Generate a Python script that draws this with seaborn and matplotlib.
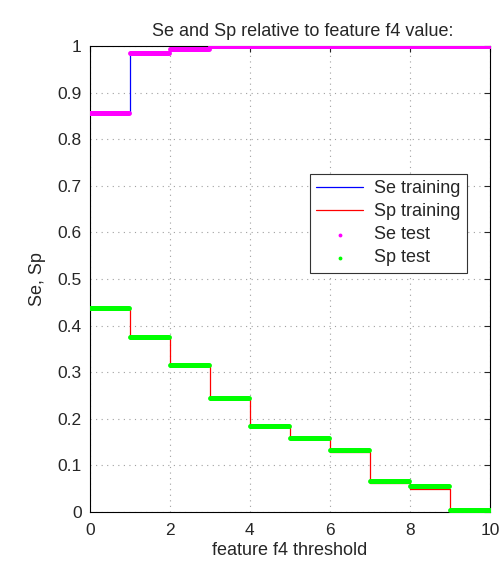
import numpy as np
import pandas as pd
import matplotlib
matplotlib.use('Agg')
import matplotlib.pyplot as plt
import seaborn as sns

# ============================================================
# DATA
# ============================================================
thresholds = [0, 1, 2, 3, 4, 5, 6, 7, 8, 9, 10]
se_train = [0.856, 0.986, 0.993, 1.0, 1.0, 1.0, 1.0, 1.0, 1.0, 1.0, 1.0]
sp_train = [0.437, 0.376, 0.315, 0.244, 0.185, 0.158, 0.129, 0.062, 0.049, 0.0, 0.0]
se_test = [0.856, 0.986, 0.993, 1.0, 1.0, 1.0, 1.0, 1.0, 1.0, 1.0, 1.0]
sp_test = [0.437, 0.376, 0.315, 0.244, 0.185, 0.158, 0.133, 0.067, 0.056, 0.004, 0.004]

# test thresholds are sampled densely; each sample takes the value of its step
test_x = np.arange(0, 10.001, 0.02)
step_idx = np.minimum(np.floor(test_x).astype(int), 9)
test_df = pd.DataFrame({
    'x': test_x,
    'se': np.array(se_test)[step_idx],
    'sp': np.array(sp_test)[step_idx],
})

# ============================================================
# STYLE
# ============================================================
sns.set_style('white')
plt.rcParams['font.family'] = ['Liberation Sans', 'DejaVu Sans']
plt.rcParams['font.size'] = 13

fig = plt.figure(figsize=(5.02, 5.61), dpi=100)
ax = fig.add_axes([0.179, 0.0873, 0.797, 0.8307])

# training curves as steps
ax.step(thresholds, se_train, where='post', color='blue', lw=0.9, label='Se training')
ax.step(thresholds, sp_train, where='post', color='red', lw=0.9, label='Sp training')

# test dots
sns.scatterplot(data=test_df, x='x', y='se', ax=ax, color='magenta', s=12,
                linewidth=0, label='Se test', zorder=3)
sns.scatterplot(data=test_df, x='x', y='sp', ax=ax, color='#00ff00', s=12,
                linewidth=0, label='Sp test', zorder=3)

ax.set_xlim(0, 10)
ax.set_ylim(0, 1)
ax.set_xticks(range(0, 11, 2))
ax.set_xticklabels([str(v) for v in range(0, 11, 2)])
ax.set_yticks(np.round(np.arange(0, 1.01, 0.1), 1))
ax.set_yticklabels(['0', '0.1', '0.2', '0.3', '0.4', '0.5', '0.6', '0.7', '0.8', '0.9', '1'])
ax.grid(True, linestyle=(0, (1, 4)), color='#a0a0a0', lw=0.8)
ax.tick_params(direction='in', top=True, right=True, length=4, labelsize=12.5, pad=6)
ax.tick_params(axis='x', pad=8)
for sp in ax.spines.values():
    sp.set_color('black')
    sp.set_linewidth(0.8)

ax.set_xlabel('feature f4 threshold', fontsize=13, labelpad=3)
ax.set_ylabel('Se, Sp', fontsize=13, labelpad=8)
ax.set_title('Se and Sp relative to feature f4 value:', fontsize=13, pad=7, x=0.533)

leg = ax.legend(loc='upper right', bbox_to_anchor=(0.9425, 0.725), fontsize=13,
                frameon=True, fancybox=False, edgecolor='#333333', framealpha=1,
                handlelength=2.6, borderpad=0.35, labelspacing=0.33, handletextpad=0.6,
                markerscale=0.8, borderaxespad=0)
leg.get_frame().set_linewidth(0.8)

fig.savefig('out.png', dpi=100)
